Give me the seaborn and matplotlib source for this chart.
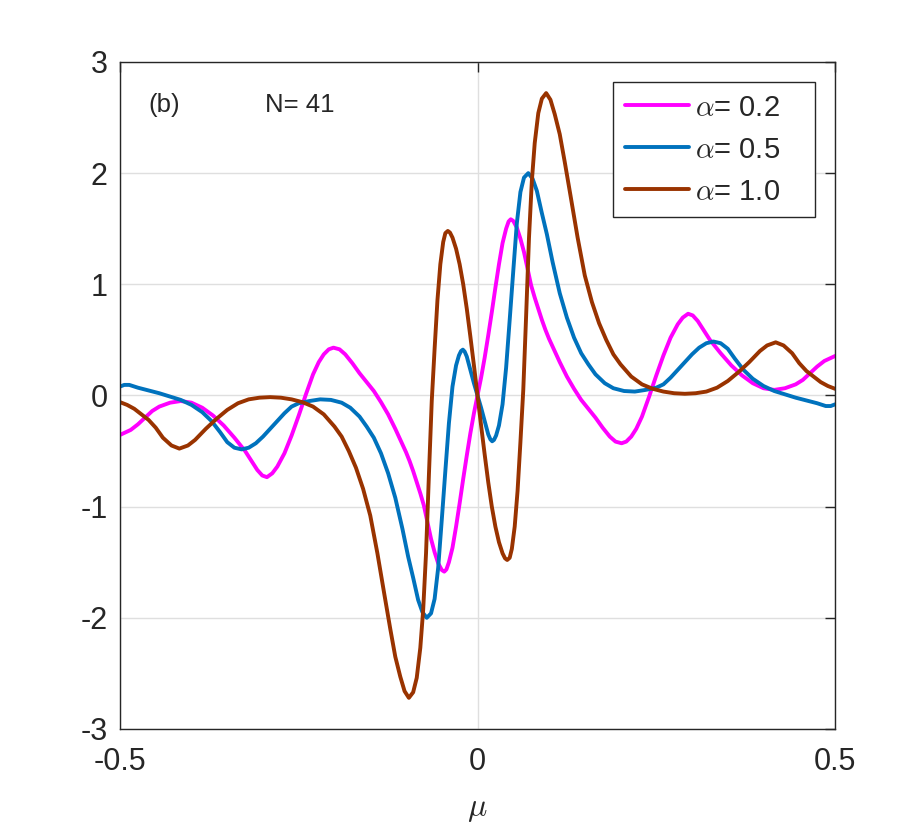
import pandas as pd
import matplotlib
matplotlib.use("Agg")
import matplotlib.pyplot as plt
import seaborn as sns

# --- curves (mu, value) ---
mu_a02 = [-0.5, -0.485, -0.475, -0.465, -0.455, -0.445, -0.43, -0.415, -0.40, -0.385,
          -0.37, -0.355, -0.34, -0.325, -0.315, -0.308, -0.301, -0.2945, -0.287, -0.28,
          -0.27, -0.26, -0.25, -0.24, -0.23, -0.222, -0.215, -0.208, -0.2015, -0.193,
          -0.185, -0.175, -0.165, -0.155, -0.145, -0.135, -0.125, -0.115, -0.105, -0.1,
          -0.095, -0.09, -0.085, -0.08, -0.075, -0.07, -0.065, -0.06, -0.055, -0.05,
          -0.0465, -0.0435, -0.04, -0.035, -0.03, -0.025, -0.02, -0.015, -0.01, -0.005,
          0.0,
          0.005, 0.01, 0.015, 0.02, 0.025, 0.03, 0.035, 0.04, 0.0435, 0.0465,
          0.05, 0.055, 0.06, 0.065, 0.07, 0.075, 0.08, 0.085, 0.09, 0.095,
          0.1, 0.105, 0.115, 0.125, 0.135, 0.145, 0.155, 0.165, 0.175, 0.185,
          0.193, 0.2015, 0.208, 0.215, 0.222, 0.23, 0.24, 0.25, 0.26, 0.27,
          0.28, 0.287, 0.2945, 0.301, 0.308, 0.315, 0.325, 0.34, 0.355, 0.37,
          0.385, 0.40, 0.415, 0.43, 0.445, 0.455, 0.465, 0.475, 0.485, 0.5]
val_a02 = [-0.355, -0.31, -0.26, -0.20, -0.14, -0.10, -0.065, -0.05, -0.065, -0.11,
           -0.18, -0.27, -0.38, -0.50, -0.60, -0.67, -0.72, -0.735, -0.70, -0.64,
           -0.52, -0.36, -0.18, 0.01, 0.19, 0.30, 0.37, 0.415, 0.43, 0.415,
           0.37, 0.29, 0.20, 0.12, 0.04, -0.06, -0.17, -0.30, -0.44, -0.51,
           -0.59, -0.68, -0.78, -0.88, -0.99, -1.14, -1.29, -1.41, -1.51, -1.57,
           -1.585, -1.565, -1.50, -1.37, -1.18, -0.97, -0.75, -0.54, -0.34, -0.16,
           0.0,
           0.16, 0.34, 0.54, 0.75, 0.97, 1.18, 1.37, 1.50, 1.565, 1.585,
           1.57, 1.51, 1.41, 1.29, 1.14, 0.99, 0.88, 0.78, 0.68, 0.59,
           0.51, 0.44, 0.30, 0.17, 0.06, -0.04, -0.12, -0.20, -0.29, -0.37,
           -0.415, -0.43, -0.415, -0.37, -0.30, -0.19, -0.01, 0.18, 0.36, 0.52,
           0.64, 0.70, 0.735, 0.72, 0.67, 0.60, 0.50, 0.38, 0.27, 0.18,
           0.11, 0.065, 0.05, 0.065, 0.10, 0.14, 0.20, 0.26, 0.31, 0.355]

mu_a05 = [-0.5, -0.494, -0.487, -0.475, -0.46, -0.445, -0.43, -0.415, -0.40, -0.385,
          -0.372, -0.36, -0.35, -0.34, -0.33, -0.32, -0.31, -0.30, -0.29, -0.28,
          -0.27, -0.26, -0.25, -0.235, -0.22, -0.205, -0.19, -0.178, -0.165, -0.155,
          -0.145, -0.135, -0.125, -0.115, -0.105, -0.097, -0.09, -0.083, -0.077, -0.071,
          -0.065, -0.06, -0.055, -0.05, -0.045, -0.04, -0.035, -0.03, -0.026, -0.023,
          -0.0205, -0.018, -0.015, -0.01, -0.005,
          0.0,
          0.005, 0.01, 0.015, 0.018, 0.0205, 0.023, 0.026, 0.03, 0.035, 0.04,
          0.045, 0.05, 0.055, 0.06, 0.065, 0.071, 0.077, 0.083, 0.09, 0.097,
          0.105, 0.115, 0.125, 0.135, 0.145, 0.155, 0.165, 0.178, 0.19, 0.205,
          0.22, 0.235, 0.25, 0.26, 0.27, 0.28, 0.29, 0.30, 0.31, 0.32,
          0.33, 0.34, 0.35, 0.36, 0.372, 0.385, 0.40, 0.415, 0.43, 0.445,
          0.46, 0.475, 0.487, 0.494, 0.5]
val_a05 = [0.08, 0.095, 0.095, 0.07, 0.045, 0.02, -0.01, -0.04, -0.085, -0.15,
           -0.23, -0.33, -0.42, -0.47, -0.485, -0.47, -0.43, -0.37, -0.30, -0.23,
           -0.16, -0.10, -0.07, -0.05, -0.035, -0.04, -0.065, -0.11, -0.19, -0.28,
           -0.38, -0.52, -0.70, -0.92, -1.20, -1.45, -1.64, -1.84, -1.95, -2.0,
           -1.96, -1.83, -1.55, -1.12, -0.68, -0.25, 0.08, 0.27, 0.36, 0.40,
           0.412, 0.395, 0.35, 0.23, 0.11,
           0.0,
           -0.11, -0.23, -0.35, -0.395, -0.412, -0.40, -0.36, -0.27, -0.08, 0.25,
           0.68, 1.12, 1.55, 1.83, 1.96, 2.0, 1.95, 1.84, 1.64, 1.45,
           1.20, 0.92, 0.70, 0.52, 0.38, 0.28, 0.19, 0.11, 0.065, 0.04,
           0.035, 0.05, 0.07, 0.10, 0.16, 0.23, 0.30, 0.37, 0.43, 0.47,
           0.485, 0.47, 0.42, 0.33, 0.23, 0.15, 0.085, 0.04, 0.01, -0.02,
           -0.045, -0.07, -0.095, -0.095, -0.08]

mu_a10 = [-0.5, -0.49, -0.48, -0.47, -0.46, -0.45, -0.44, -0.428, -0.417, -0.405,
          -0.395, -0.38, -0.365, -0.35, -0.335, -0.32, -0.305, -0.29, -0.275, -0.26,
          -0.245, -0.23, -0.215, -0.20, -0.19, -0.18, -0.17, -0.16, -0.15, -0.14,
          -0.13, -0.122, -0.115, -0.108, -0.102, -0.096, -0.09, -0.085, -0.08, -0.076,
          -0.072, -0.068, -0.064, -0.06, -0.056, -0.052, -0.048, -0.045, -0.0415, -0.0385,
          -0.035, -0.03, -0.025, -0.02, -0.015, -0.01, -0.005,
          0.0,
          0.005, 0.01, 0.015, 0.02, 0.025, 0.03, 0.035, 0.0385, 0.0415, 0.045,
          0.048, 0.052, 0.056, 0.06, 0.064, 0.068, 0.072, 0.076, 0.08, 0.085,
          0.09, 0.096, 0.102, 0.108, 0.115, 0.122, 0.13, 0.14, 0.15, 0.16,
          0.17, 0.18, 0.19, 0.20, 0.215, 0.23, 0.245, 0.26, 0.275, 0.29,
          0.305, 0.32, 0.335, 0.35, 0.365, 0.38, 0.395, 0.405, 0.417, 0.428,
          0.44, 0.45, 0.46, 0.47, 0.48, 0.49, 0.5]
val_a10 = [-0.06, -0.085, -0.12, -0.17, -0.22, -0.29, -0.38, -0.45, -0.478, -0.45,
           -0.40, -0.30, -0.21, -0.13, -0.07, -0.035, -0.02, -0.015, -0.02, -0.035,
           -0.06, -0.10, -0.17, -0.28, -0.37, -0.50, -0.65, -0.84, -1.08, -1.42,
           -1.80, -2.10, -2.35, -2.53, -2.66, -2.72, -2.67, -2.54, -2.27, -1.93,
           -1.42, -0.72, -0.05, 0.42, 0.86, 1.18, 1.38, 1.46, 1.48, 1.465,
           1.42, 1.32, 1.18, 1.0, 0.78, 0.53, 0.27,
           0.0,
           -0.27, -0.53, -0.78, -1.0, -1.18, -1.32, -1.42, -1.465, -1.48, -1.46,
           -1.38, -1.18, -0.86, -0.42, 0.05, 0.72, 1.42, 1.93, 2.27, 2.54,
           2.67, 2.72, 2.66, 2.53, 2.35, 2.10, 1.80, 1.42, 1.08, 0.84,
           0.65, 0.50, 0.37, 0.28, 0.17, 0.10, 0.06, 0.035, 0.02, 0.015,
           0.02, 0.035, 0.07, 0.13, 0.21, 0.30, 0.40, 0.45, 0.478, 0.45,
           0.38, 0.29, 0.22, 0.17, 0.12, 0.085, 0.06]

series_labels = [r"$\alpha$= 0.2", r"$\alpha$= 0.5", r"$\alpha$= 1.0"]
series_colors = ["#ff00ff", "#0072bd", "#993300"]

df = pd.concat([
    pd.DataFrame({"mu": mu_a02, "value": val_a02, "alpha": series_labels[0]}),
    pd.DataFrame({"mu": mu_a05, "value": val_a05, "alpha": series_labels[1]}),
    pd.DataFrame({"mu": mu_a10, "value": val_a10, "alpha": series_labels[2]}),
], ignore_index=True)

sns.set_style("white")
plt.rcParams["font.family"] = ["Liberation Sans", "DejaVu Sans"]
plt.rcParams["mathtext.fontset"] = "cm"
plt.rcParams["axes.unicode_minus"] = False

fig = plt.figure(figsize=(9.23, 8.25), dpi=100)
ax = fig.add_axes([0.130, 0.1164, 0.7747, 0.8085])

sns.lineplot(data=df, x="mu", y="value", hue="alpha",
             palette=dict(zip(series_labels, series_colors)),
             estimator=None, sort=False, linewidth=2.8, ax=ax)

ax.set_xlim(-0.5, 0.5)
ax.set_ylim(-3, 3)
ax.set_xticks([-0.5, 0, 0.5])
ax.set_xticklabels(["-0.5", "0", "0.5"])
ax.set_yticks([-3, -2, -1, 0, 1, 2, 3])
ax.grid(True, color="#dfdfdf", linewidth=1.0)
ax.set_axisbelow(True)

ax.tick_params(axis="both", direction="in", length=7, width=1,
               top=True, right=True, labelsize=22, colors="#262626")
ax.tick_params(axis="x", pad=13)
ax.tick_params(axis="y", pad=9)
for s in ax.spines.values():
    s.set_color("#262626")
    s.set_linewidth(1.0)

ax.set_xlabel(r"$\mu$", fontsize=23, color="#262626", labelpad=12)
ax.set_ylabel("")

ax.text(-0.461, 2.61, "(b)", fontsize=18.5, va="center", ha="left")
ax.text(-0.297, 2.61, "N= 41", fontsize=18.5, va="center", ha="left")

# legend box stretched to the reference width
leg = ax.legend(loc="upper left", bbox_to_anchor=(0.6895, 0.970, 0.2825, 0.0),
                mode="expand", fontsize=21, frameon=True, fancybox=False,
                edgecolor="#262626", framealpha=1, handlelength=2.2,
                handletextpad=0.2, borderaxespad=0.0, labelspacing=0.48,
                borderpad=0.4, title=None)
leg.get_frame().set_linewidth(1.0)
for line in leg.get_lines():
    line.set_linewidth(2.8)

plt.savefig("out.png", dpi=100)
